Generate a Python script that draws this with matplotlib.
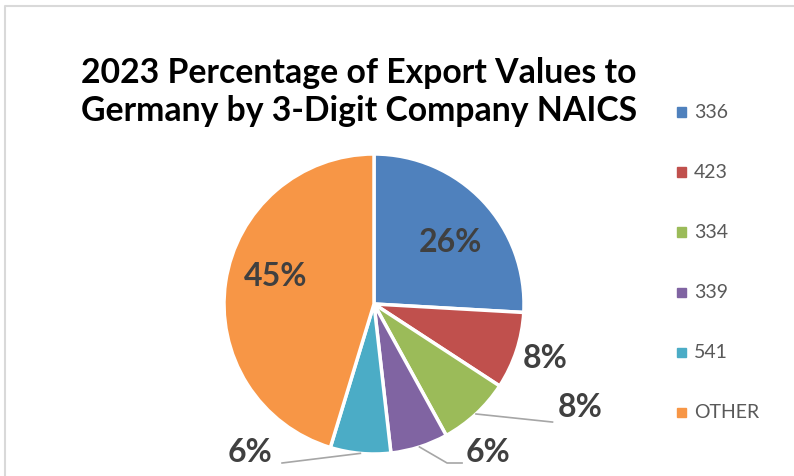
import matplotlib.pyplot as plt
import numpy as np

# data
categories = ["336", "423", "334", "339", "541", "OTHER"]
shares = [25.9, 8.3, 7.8, 6.2, 6.5, 45.3]
colors = ["#4F81BD", "#C0504D", "#9BBB59", "#8064A2", "#4BACC6", "#F79646"]
pct_labels = ["26%", "8%", "8%", "6%", "6%", "45%"]

W, H = 794, 476
cx, cy, R = 374, 304, 150  # pie centre / radius in pixels

fig = plt.figure(figsize=(W / 100, H / 100), dpi=100)
ax = fig.add_axes([0, 0, 1, 1])

wedges, _ = ax.pie(shares, colors=colors, startangle=90, counterclock=False,
                   radius=1.0, wedgeprops=dict(edgecolor="white", linewidth=2.5))
ax.set_aspect("auto")
ax.set_xlim(-cx / R, (W - cx) / R)
ax.set_ylim(-(H - cy) / R, cy / R)
ax.axis("off")

# label placement (in radius units), leader line ends (None = no line)
label_pos = [(0.507, 0.413), (1.14, -0.36), (1.373, -0.693),
             (0.76, -0.987), (-0.827, -0.987), (-0.653, 0.18)]
leader_end = [None, None, [(1.19, -0.787)],
              [(0.487, -1.06), (0.587, -1.06)],
              [(-0.613, -1.06)], None]

for w, lab, pos, le in zip(wedges, pct_labels, label_pos, leader_end):
    ax.text(pos[0], pos[1], lab, ha="center", va="center", fontsize=23,
            fontweight="bold", color="#404040", family=["Lato", "DejaVu Sans"])
    if le:
        mid = np.deg2rad((w.theta1 + w.theta2) / 2)
        xs = [np.cos(mid)] + [p[0] for p in le]
        ys = [np.sin(mid)] + [p[1] for p in le]
        ax.plot(xs, ys, color="#A6A6A6", lw=1.2, clip_on=False)

fig.text(359 / W, 1 - 92 / H,
         "2023 Percentage of Export Values to\nGermany by 3-Digit Company NAICS",
         ha="center", va="center", fontsize=24.3, fontweight="bold",
         linespacing=1.22, family=["Lato", "DejaVu Sans"])

# legend
for i, (cat, col) in enumerate(zip(categories, colors)):
    y = 1 - (112 + 60 * i) / H
    fig.patches.append(plt.Rectangle((677 / W, y - 4.5 / H), 9 / W, 9 / H,
                                     transform=fig.transFigure, color=col))
    fig.text(694 / W, y, cat, ha="left", va="center", fontsize=14,
             color="#595959", family=["Lato", "DejaVu Sans"])

# chart border
fig.add_artist(plt.Line2D([5 / W, 5 / W, 1], [0, 1 - 6 / H, 1 - 6 / H],
                          color="#D9D9D9", lw=1.5, transform=fig.transFigure))

fig.savefig("out.png", dpi=100)
